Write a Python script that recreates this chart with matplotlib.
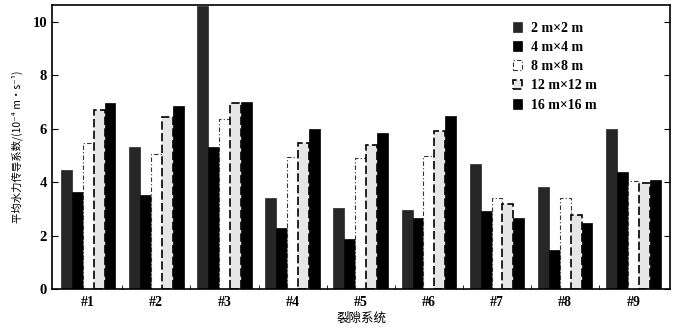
import matplotlib
matplotlib.use("Agg")
import matplotlib.pyplot as plt
import numpy as np

categories = ["#1", "#2", "#3", "#4", "#5", "#6", "#7", "#8", "#9"]
series_labels = ["2 m×2 m", "4 m×4 m", "8 m×8 m", "12 m×12 m", "16 m×16 m"]
v2 = [4.45, 5.32, 10.6, 3.41, 3.03, 2.96, 4.68, 3.82, 5.99]
v4 = [3.64, 3.53, 5.32, 2.28, 1.87, 2.66, 2.92, 1.46, 4.38]
v8 = [5.47, 5.05, 6.37, 4.94, 4.90, 5.00, 3.41, 3.42, 4.04]
v12 = [6.70, 6.44, 6.97, 5.47, 5.39, 5.92, 3.18, 2.77, 3.97]
v16 = [6.97, 6.85, 7.00, 5.99, 5.84, 6.48, 2.66, 2.47, 4.08]
yticks = [0, 2, 4, 6, 8, 10]

plt.rcParams['font.family'] = ['Liberation Serif', 'DejaVu Serif']

fig = plt.figure(figsize=(6.81, 3.29), dpi=100)
ax = fig.add_axes([0.0764, 0.1216, 0.9076, 0.8634])

x = np.arange(len(categories))
w = 0.16
offs = (np.arange(5) - 2) * w
styles = [
    dict(facecolor='#262626', edgecolor='#262626', linewidth=0.5),
    dict(facecolor='#000000', edgecolor='#000000', linewidth=0.5),
    dict(facecolor='white', edgecolor='#333333', linewidth=0.8, linestyle=(0, (4, 2, 1, 2))),
    dict(facecolor='#e6e6e6', edgecolor='black', linewidth=1.2, linestyle=(0, (5, 2))),
    dict(facecolor='#000000', edgecolor='#000000', linewidth=0.5),
]
for i, vals in enumerate([v2, v4, v8, v12, v16]):
    ax.bar(x + offs[i], vals, width=w, label=series_labels[i], **styles[i])

ax.set_xlim(-0.53, 8.54)
ax.set_ylim(0, 10.64)
ax.set_yticks(yticks)
ax.set_xticks(x)
ax.set_xticklabels(categories, fontsize=10, fontweight='bold')
ax.set_xticks(np.arange(len(categories) - 1) + 0.5, minor=True)
ax.tick_params(axis='x', which='major', length=0, pad=5)
ax.tick_params(axis='x', which='minor', direction='in', length=3)
ax.tick_params(axis='y', which='major', direction='in', length=4, right=True, labelsize=10.5)
for lab in ax.get_yticklabels():
    lab.set_fontweight('bold')
for s in ax.spines.values():
    s.set_linewidth(1.2)

ax.set_ylabel("平均水力传导系数/(10⁻⁴ m·s⁻¹)", family=['Noto Sans CJK SC', 'DejaVu Sans'],
              fontsize=7.5, labelpad=7)
ax.set_xlabel("裂隙系统", family=['Noto Sans CJK SC', 'DejaVu Sans'], fontsize=9, labelpad=2)

leg = ax.legend(loc='upper left', bbox_to_anchor=(0.725, 0.985), frameon=False,
                prop={'family': ['Liberation Serif', 'DejaVu Serif'], 'weight': 'bold', 'size': 10},
                handlelength=0.7, handleheight=0.7, handletextpad=0.6, labelspacing=0.45)

fig.savefig("out.png", dpi=100)
